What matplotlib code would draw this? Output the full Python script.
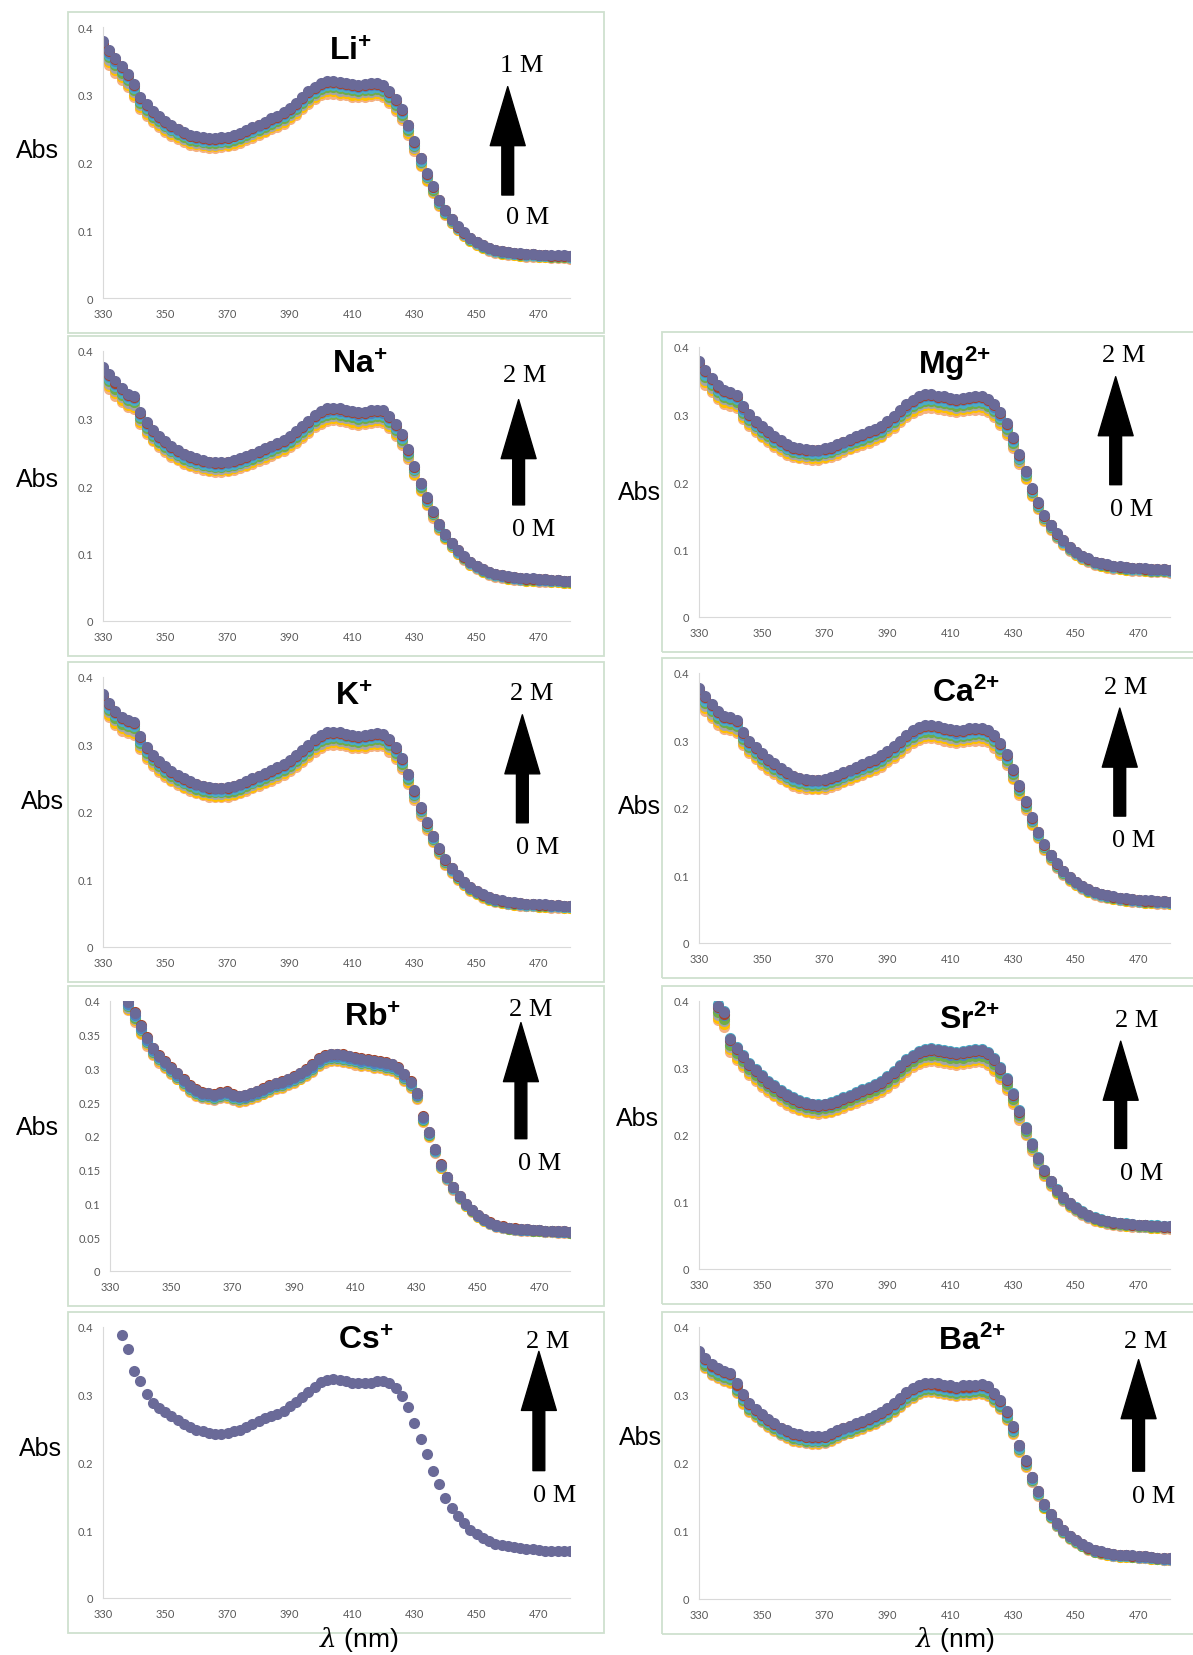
import numpy as np
import matplotlib
matplotlib.use("Agg")
import matplotlib.pyplot as plt
from matplotlib.patches import Rectangle
from matplotlib.ticker import FuncFormatter, MultipleLocator

plt.rcParams['mathtext.fontset'] = 'custom'
plt.rcParams['mathtext.rm'] = 'Liberation Sans'
plt.rcParams['mathtext.bf'] = 'Liberation Sans:bold'
plt.rcParams['mathtext.it'] = 'DejaVu Serif:italic'

# ---- data: top spectrum of each titration (Abs, 2 nm steps up to 480 nm)
li_abs = [0.379, 0.366, 0.354, 0.343, 0.331, 0.316, 0.297, 0.286, 0.276, 0.269,
          0.261, 0.255, 0.250, 0.245, 0.241, 0.239, 0.237, 0.236, 0.236, 0.237,
          0.238, 0.241, 0.244, 0.248, 0.252, 0.256, 0.260, 0.265, 0.269, 0.274,
          0.281, 0.288, 0.297, 0.305, 0.312, 0.318, 0.321, 0.321, 0.319, 0.318,
          0.316, 0.315, 0.316, 0.317, 0.318, 0.315, 0.306, 0.293, 0.279, 0.256,
          0.231, 0.207, 0.184, 0.165, 0.145, 0.130, 0.117, 0.106, 0.097, 0.089,
          0.083, 0.078, 0.074, 0.071, 0.069, 0.068, 0.067, 0.066, 0.065, 0.065,
          0.064, 0.064, 0.063, 0.063, 0.063, 0.062]
na_abs = [0.377, 0.366, 0.355, 0.345, 0.337, 0.334, 0.310, 0.295, 0.283, 0.274,
          0.266, 0.259, 0.253, 0.248, 0.244, 0.241, 0.238, 0.236, 0.235, 0.235,
          0.236, 0.238, 0.241, 0.244, 0.248, 0.252, 0.256, 0.260, 0.264, 0.268,
          0.274, 0.281, 0.289, 0.297, 0.305, 0.311, 0.315, 0.316, 0.315, 0.313,
          0.311, 0.309, 0.310, 0.312, 0.313, 0.312, 0.304, 0.292, 0.277, 0.255,
          0.230, 0.205, 0.183, 0.163, 0.144, 0.129, 0.116, 0.105, 0.096, 0.088,
          0.082, 0.077, 0.073, 0.070, 0.068, 0.066, 0.065, 0.064, 0.063, 0.063,
          0.062, 0.062, 0.061, 0.061, 0.060, 0.060]
k_abs = [0.375, 0.362, 0.350, 0.341, 0.337, 0.334, 0.312, 0.297, 0.285, 0.276,
         0.268, 0.261, 0.255, 0.250, 0.246, 0.242, 0.239, 0.237, 0.236, 0.236,
         0.237, 0.239, 0.242, 0.246, 0.250, 0.254, 0.258, 0.262, 0.266, 0.271,
         0.277, 0.284, 0.292, 0.300, 0.308, 0.314, 0.318, 0.319, 0.318, 0.316,
         0.314, 0.313, 0.314, 0.316, 0.317, 0.316, 0.308, 0.296, 0.280, 0.257,
         0.232, 0.207, 0.185, 0.165, 0.146, 0.130, 0.117, 0.106, 0.097, 0.089,
         0.083, 0.078, 0.074, 0.071, 0.069, 0.067, 0.066, 0.065, 0.064, 0.064,
         0.063, 0.063, 0.062, 0.062, 0.061, 0.061]
rb_abs = [0.400, 0.383, 0.364, 0.346, 0.331, 0.320, 0.311,
          0.302, 0.294, 0.284, 0.275, 0.269, 0.265, 0.264, 0.262, 0.265, 0.266,
          0.262, 0.260, 0.261, 0.264, 0.267, 0.271, 0.275, 0.279, 0.281, 0.285,
          0.289, 0.294, 0.299, 0.306, 0.315, 0.320, 0.322, 0.322, 0.321, 0.319,
          0.317, 0.315, 0.314, 0.312, 0.311, 0.309, 0.307, 0.302, 0.292, 0.281,
          0.264, 0.229, 0.206, 0.181, 0.158, 0.140, 0.125, 0.111, 0.100, 0.091,
          0.083, 0.077, 0.072, 0.068, 0.066, 0.064, 0.063, 0.062, 0.062, 0.061,
          0.061, 0.060, 0.060, 0.059, 0.059, 0.058]
cs_abs = [0.388, 0.367, 0.335, 0.321, 0.301, 0.288, 0.280,
          0.274, 0.268, 0.262, 0.257, 0.252, 0.248, 0.246, 0.243, 0.242, 0.242,
          0.243, 0.246, 0.248, 0.253, 0.257, 0.261, 0.265, 0.268, 0.271, 0.276,
          0.283, 0.289, 0.296, 0.304, 0.311, 0.319, 0.322, 0.323, 0.322, 0.320,
          0.318, 0.317, 0.317, 0.318, 0.320, 0.320, 0.317, 0.310, 0.298, 0.282,
          0.259, 0.234, 0.212, 0.187, 0.168, 0.148, 0.133, 0.121, 0.110, 0.101,
          0.095, 0.089, 0.084, 0.080, 0.078, 0.077, 0.075, 0.074, 0.073, 0.072,
          0.071, 0.070, 0.070, 0.069, 0.069, 0.069]
mg_abs = [0.380, 0.366, 0.354, 0.343, 0.336, 0.333, 0.329, 0.312, 0.301, 0.291,
          0.283, 0.276, 0.268, 0.262, 0.256, 0.252, 0.250, 0.249, 0.248, 0.248,
          0.250, 0.252, 0.256, 0.260, 0.264, 0.268, 0.271, 0.275, 0.279, 0.283,
          0.291, 0.298, 0.307, 0.315, 0.322, 0.327, 0.330, 0.330, 0.328, 0.327,
          0.325, 0.323, 0.324, 0.326, 0.327, 0.327, 0.323, 0.315, 0.303, 0.287,
          0.266, 0.241, 0.217, 0.191, 0.170, 0.151, 0.137, 0.124, 0.114, 0.104,
          0.097, 0.091, 0.087, 0.082, 0.080, 0.078, 0.076, 0.075, 0.074, 0.073,
          0.073, 0.072, 0.071, 0.071, 0.071, 0.070]
ca_abs = [0.378, 0.366, 0.354, 0.344, 0.337, 0.335, 0.331, 0.312, 0.300, 0.290,
          0.281, 0.273, 0.266, 0.259, 0.253, 0.248, 0.245, 0.243, 0.242, 0.242,
          0.243, 0.246, 0.249, 0.253, 0.257, 0.261, 0.265, 0.269, 0.273, 0.278,
          0.285, 0.292, 0.300, 0.308, 0.315, 0.320, 0.323, 0.323, 0.321, 0.319,
          0.317, 0.315, 0.316, 0.318, 0.319, 0.319, 0.316, 0.308, 0.296, 0.280,
          0.258, 0.234, 0.210, 0.186, 0.165, 0.146, 0.131, 0.118, 0.107, 0.098,
          0.091, 0.085, 0.080, 0.076, 0.073, 0.071, 0.069, 0.067, 0.066, 0.065,
          0.064, 0.063, 0.063, 0.062, 0.062, 0.061]
sr_abs = [0.395, 0.385, 0.345, 0.332, 0.320, 0.308, 0.298,
          0.289, 0.281, 0.274, 0.267, 0.261, 0.256, 0.252, 0.249, 0.247, 0.246,
          0.247, 0.249, 0.252, 0.256, 0.260, 0.264, 0.268, 0.272, 0.276, 0.281,
          0.288, 0.296, 0.305, 0.313, 0.320, 0.326, 0.329, 0.330, 0.329, 0.327,
          0.325, 0.324, 0.325, 0.327, 0.328, 0.328, 0.324, 0.315, 0.302, 0.285,
          0.262, 0.237, 0.212, 0.188, 0.167, 0.148, 0.132, 0.119, 0.108, 0.099,
          0.092, 0.086, 0.081, 0.077, 0.074, 0.072, 0.070, 0.069, 0.068, 0.067,
          0.066, 0.066, 0.065, 0.065, 0.064, 0.064]
ba_abs = [0.365, 0.355, 0.345, 0.340, 0.336, 0.333, 0.317, 0.301, 0.288, 0.280,
          0.272, 0.265, 0.259, 0.252, 0.248, 0.244, 0.242, 0.240, 0.239, 0.239,
          0.240, 0.244, 0.248, 0.252, 0.255, 0.259, 0.262, 0.266, 0.270, 0.275,
          0.281, 0.288, 0.296, 0.304, 0.310, 0.315, 0.318, 0.318, 0.317, 0.315,
          0.314, 0.312, 0.314, 0.314, 0.315, 0.316, 0.313, 0.303, 0.293, 0.276,
          0.254, 0.227, 0.204, 0.180, 0.159, 0.140, 0.125, 0.112, 0.102, 0.093,
          0.087, 0.081, 0.076, 0.072, 0.070, 0.068, 0.066, 0.065, 0.065, 0.064,
          0.063, 0.063, 0.062, 0.061, 0.060, 0.060]

# relative level of each addition (0 M ... top conc.)
li_steps = [0.94, 0.95, 0.96, 0.97, 0.98, 0.99, 0.995, 1.0]
na_steps = [0.94, 0.95, 0.96, 0.97, 0.98, 0.99, 0.995, 1.0]
k_steps = [0.94, 0.95, 0.96, 0.97, 0.98, 0.99, 0.995, 1.0]
rb_steps = [0.965, 0.97, 0.975, 0.98, 0.985, 0.99, 1.0, 0.997]
cs_steps = [1.0]
mg_steps = [0.94, 0.95, 0.96, 0.97, 0.98, 0.99, 0.995, 1.0]
ca_steps = [0.94, 0.95, 0.96, 0.97, 0.98, 0.99, 0.995, 1.0]
sr_steps = [0.94, 0.95, 0.96, 0.97, 1.0, 0.985, 0.99, 0.995]
ba_steps = [0.955, 0.96, 0.965, 0.97, 0.98, 0.99, 0.995, 1.0]

ions = [r'Li^{+}', r'Na^{+}', r'K^{+}', r'Rb^{+}', r'Cs^{+}',
        r'Mg^{2{+}}', r'Ca^{2{+}}', r'Sr^{2{+}}', r'Ba^{2{+}}']
top_conc = ['1 M', '2 M', '2 M', '2 M', '2 M', '2 M', '2 M', '2 M', '2 M']
spectra = [li_abs, na_abs, k_abs, rb_abs, cs_abs, mg_abs, ca_abs, sr_abs, ba_abs]
steps = [li_steps, na_steps, k_steps, rb_steps, cs_steps,
         mg_steps, ca_steps, sr_steps, ba_steps]

colors = ['#F4B183', '#FFC000', '#A5A5A5', '#70AD47', '#4BACC6',
          '#4F81BD', '#A5442A', '#6A6A98']

# ---- layout (pixels): box, arrow x (nm), tip/tail/labels (axes frac),
#      label x offsets (nm), title x (nm)/y (frac), Abs label position
W, H = 1193, 1656
panels = [
    dict(box=(68, 13, 604, 334), arr=(460, 0.78, 0.38, 0.86, 0.30), dx=(4.4, 6.4), tt=(409.5, 0.91), abs=(37, 151)),
    dict(box=(68, 337, 604, 657), arr=(463.5, 0.82, 0.43, 0.91, 0.34), dx=(2.0, 4.7), tt=(412.5, 0.95), abs=(37, 480)),
    dict(box=(68, 663, 604, 983), arr=(464.7, 0.86, 0.46, 0.94, 0.37), dx=(3.0, 5.0), tt=(410.5, 0.93), abs=(42, 802)),
    dict(box=(68, 987, 604, 1307), arr=(464, 0.92, 0.49, 0.97, 0.40), dx=(3.3, 6.0), tt=(415.5, 0.94), abs=(37, 1128)),
    dict(box=(68, 1313, 604, 1634), arr=(470, 0.91, 0.47, 0.95, 0.38), dx=(2.7, 5.0), tt=(414.5, 0.95), abs=(40, 1449)),
    dict(box=(662, 333, 1205, 653), arr=(462.7, 0.89, 0.49, 0.97, 0.40), dx=(2.7, 5.0), tt=(411.5, 0.94), abs=(639, 493)),
    dict(box=(662, 659, 1205, 979), arr=(464, 0.87, 0.47, 0.95, 0.38), dx=(2.0, 4.4), tt=(415, 0.93), abs=(639, 807)),
    dict(box=(662, 987, 1205, 1305), arr=(464.3, 0.85, 0.45, 0.93, 0.36), dx=(5.0, 6.7), tt=(416, 0.93), abs=(637, 1119)),
    dict(box=(662, 1313, 1205, 1635), arr=(470, 0.88, 0.47, 0.95, 0.38), dx=(2.3, 4.7), tt=(417, 0.95), abs=(640, 1438)),
]

fig = plt.figure(figsize=(W / 100, H / 100), dpi=100)
fmt = FuncFormatter(lambda v, p: '%g' % round(v, 3))

for i, p in enumerate(panels):
    l, t, r, b = p['box']
    fig.patches.append(Rectangle((l / W, 1 - b / H), (r - l) / W, (b - t) / H,
                                 transform=fig.transFigure, fill=False,
                                 edgecolor='#CFE0CF', lw=1.3))
    if l < 300:
        al, ar = (110 if i == 3 else 103), 570
    else:
        al, ar = 699, 1170
    at, ab = t + 15, b - 35
    ax = fig.add_axes([al / W, 1 - ab / H, (ar - al) / W, (ab - at) / H])

    y_top = np.array(spectra[i])
    x = np.arange(480 - 2 * (len(y_top) - 1), 481, 2)
    n = len(steps[i])
    for j, f in enumerate(steps[i]):
        c = colors[-1] if n == 1 else colors[j]
        ax.plot(x, y_top * f, 'o', ms=8, color=c, mec='none')

    ax.set_xlim(330, 480)
    ax.set_ylim(0, 0.4)
    ax.set_xticks(range(330, 471, 20))
    ax.yaxis.set_major_locator(MultipleLocator(0.05 if i == 3 else 0.1))
    ax.yaxis.set_major_formatter(fmt)
    for s in ['top', 'right']:
        ax.spines[s].set_visible(False)
    for s in ['left', 'bottom']:
        ax.spines[s].set_color('#D9D9D9')
    ax.tick_params(length=0, labelsize=8, labelcolor='#595959', pad=7)
    for lab in ax.get_xticklabels() + ax.get_yticklabels():
        lab.set_family('Lato')

    # title
    ax.text(p['tt'][0], p['tt'][1], r'$\mathbf{' + ions[i] + '}$',
            transform=ax.get_xaxis_transform(), ha='center', va='center',
            fontsize=23, clip_on=False)
    # arrow and concentration labels
    xa, tip, tail, ytl, ybl = p['arr']
    tr = ax.get_xaxis_transform()
    ax.annotate('', xy=(xa, tip), xytext=(xa, tail), xycoords=tr, textcoords=tr,
                arrowprops=dict(arrowstyle='simple,head_length=1.25,head_width=0.74,tail_width=0.25',
                                mutation_scale=34, color='black', shrinkA=0, shrinkB=0))
    ax.text(xa + p['dx'][0], ytl, top_conc[i], transform=tr, ha='center', va='center',
            fontsize=19, family='Liberation Serif')
    ax.text(xa + p['dx'][1], ybl, '0 M', transform=tr, ha='center', va='center',
            fontsize=19, family='Liberation Serif')

    fig.text(p['abs'][0] / W, 1 - p['abs'][1] / H, 'Abs', ha='center', va='center',
             fontsize=18, family='Liberation Sans')

for xc in [359, 955]:
    fig.text(xc / W, 1 - 1640 / H, r'$\mathit{\lambda}$ (nm)', ha='center', va='center',
             fontsize=19, family='Liberation Sans')

fig.savefig('out.png', dpi=100, facecolor='white')
